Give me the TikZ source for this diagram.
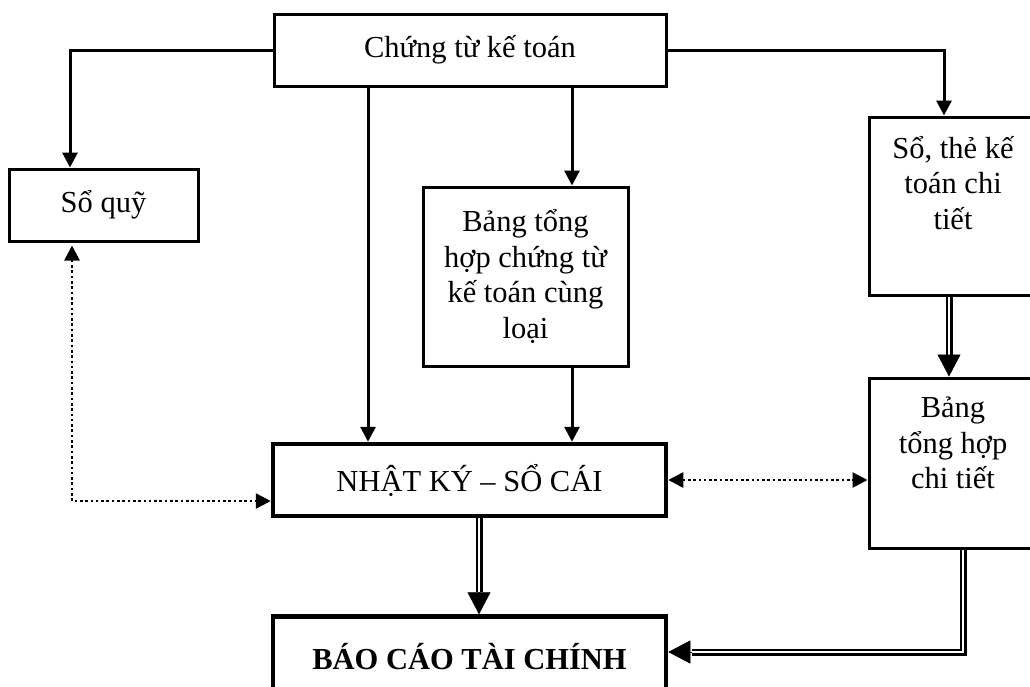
\documentclass[tikz,border=0pt]{standalone}
\usepackage{fontspec}
\setmainfont{Liberation Serif}
\usetikzlibrary{arrows.meta,calc}
\newcommand\dgfont{\fontsize{30.5}{35.5}\selectfont}
\begin{document}
\begin{tikzpicture}[x=1pt,y=-1pt,
  box/.style={draw,line width=3pt,rectangle,inner sep=0pt,align=center,font=\dgfont},
  heavybox/.style={box,line width=4.5pt},
  txt/.style={inner sep=0pt,align=center,font=\dgfont},
  arr/.style={line width=3pt,-{Triangle[length=15pt,width=15pt]}},
  dotline/.style={line width=2.6pt,dash pattern=on 2.6pt off 2.7pt},
  dbl/.style={double,line width=2.5pt,double distance=2pt},
  dtip/.style={line width=0.5pt,-{Triangle[length=22pt,width=23pt]}}]
\useasboundingbox (0,0) rectangle (1030,686);
% boxes
\node[box,minimum width=392pt,minimum height=72pt] (ct) at (470,50) {Chứng từ kế toán};
\node[box,minimum width=189pt,minimum height=72pt] (sq) at (103.5,205) {Sổ quỹ};
\node[box,minimum width=205pt,minimum height=179pt] (bth) at (525.5,276.5) {Bảng tổng\\hợp chứng từ\\kế toán cùng\\loại};
\node[box,minimum width=168pt,minimum height=178pt] (stk) at (953,206) {};
\node[txt] (stkt) at (953,183) {Sổ, thẻ kế\\toán chi\\tiết};
\node[box,minimum width=168pt,minimum height=170pt] (bthct) at (953,463) {};
\node[txt] (bthctt) at (953,443) {Bảng\\tổng hợp\\chi tiết};
\node[heavybox,minimum width=393pt,minimum height=72pt] (nksc) at (469.5,480) {NHẬT KÝ – SỔ CÁI};
\node[heavybox,minimum width=393pt,minimum height=103pt] (bctc) at (469.5,668) {};
\node[txt,font=\dgfont\bfseries] (bctct) at (469.5,657) {BÁO CÁO TÀI CHÍNH};
% helper coordinates
\coordinate (xq) at (70,0);
\coordinate (xL) at (368,0);
\coordinate (xM) at (572,0);
\coordinate (xR) at (944,0);
\coordinate (xS) at (949,0);
\coordinate (xN) at (479,0);
\coordinate (xB) at (963,0);
\coordinate (yB) at (0,652);
\coordinate (xD) at (72,0);
\coordinate (yD) at (0,501);
% single arrows
\draw[arr] (ct.west) -| (sq.north -| xq);
\draw[arr] (ct.east) -| (stk.north -| xR);
\draw[arr] (ct.south -| xL) -- (nksc.north -| xL);
\draw[arr] (ct.south -| xM) -- (bth.north -| xM);
\draw[arr] (bth.south -| xM) -- (nksc.north -| xM);
% dotted arrows
\draw[dotline,{Triangle[length=15pt,width=15pt]}-{Triangle[length=15pt,width=15pt]},shorten <=3pt] (sq.south -| xD) |- (nksc.west |- yD);
\draw[dotline,{Triangle[length=15pt,width=15pt]}-{Triangle[length=15pt,width=15pt]}] (nksc.east) -- (bthct.west |- nksc.east);
% double arrows
\draw[dbl] (stk.south -| xS) -- ($(bthct.north -| xS)+(0,-21)$);
\draw[dtip] ($(bthct.north -| xS)+(0,-21)$) -- (bthct.north -| xS);
\draw[dbl] (nksc.south -| xN) -- ($(bctc.north -| xN)+(0,-22)$);
\draw[dtip] ($(bctc.north -| xN)+(0,-22)$) -- (bctc.north -| xN);
\draw[dbl] (bthct.south -| xB) |- ($(bctc.east |- yB)+(24,0)$);
\draw[dtip] ($(bctc.east |- yB)+(24,0)$) -- (bctc.east |- yB);
\end{tikzpicture}
\end{document}
